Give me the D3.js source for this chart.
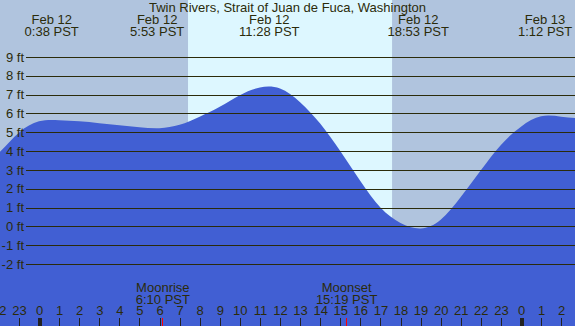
<!DOCTYPE html>
<html>
<head>
<meta charset="utf-8">
<script src="https://cdn.jsdelivr.net/npm/d3@7"></script>
<style>
  body { margin: 0; }
  svg { display: block; font-family: "Liberation Sans", Arial, sans-serif; }
</style>
</head>
<body>
<div id="chart-area"></div>
<script>
// hours from Feb 12 0:00 PST, heights (ft)
var hours = [-3, -2, -1, 0, 1, 2, 3, 4, 5, 6, 7, 8, 9, 10, 11, 12, 13, 14, 15, 16, 17, 18, 19, 20, 21, 22, 23, 24, 25, 26, 27, 28];
var heights = [2.9, 3.9, 4.98, 5.58, 5.64, 5.58, 5.48, 5.37, 5.27, 5.22, 5.4, 5.83, 6.35, 6.97, 7.38, 7.32, 6.6, 5.46, 4.0, 2.41, 1.0, 0.18, -0.11, 0.35, 1.56, 2.98, 4.33, 5.3, 5.85, 5.83, 5.7, 5.4];

var extremeHours = [0.633, 5.883, 11.467, 18.883, 25.2];
var extremeDates = ['Feb 12', 'Feb 12', 'Feb 12', 'Feb 12', 'Feb 13'];
var extremeTimes = ['0:38 PST', '5:53 PST', '11:28 PST', '18:53 PST', '1:12 PST'];

var moonHours = [6.167, 15.317];
var moonNames = ['Moonrise', 'Moonset'];
var moonTimes = ['6:10 PST', '15:19 PST'];

var sunrise = 7.42, sunset = 17.58;
var feetTicks = [-2, -1, 0, 1, 2, 3, 4, 5, 6, 7, 8, 9];
var hourTicks = d3.range(-2, 27);

var title = 'Twin Rivers, Strait of Juan de Fuca, Washington';

var width = 575;
var height = 326;
var ink = '#2b2b0a';
var fontSize = 13;

var svg = d3.select('#chart-area')
	.append('svg')
	.attr('width', width)
	.attr('height', height);

var x = d3.scaleLinear()
	.domain([0, 24])
	.range([39, 521]);

var y = d3.scaleLinear()
	.domain([-2, 9])
	.range([264, 57]);

// night / day sky
svg.append('rect')
	.attr('width', width)
	.attr('height', height)
	.attr('fill', '#b0c4de');

svg.append('rect')
	.attr('x', x(sunrise))
	.attr('y', 0)
	.attr('width', x(sunset) - x(sunrise))
	.attr('height', height)
	.attr('fill', '#ddf7ff');

// water
var area = d3.area()
	.x((d, i) => x(hours[i]))
	.y0(height)
	.y1(d => y(d))
	.curve(d3.curveNatural);

svg.append('path')
	.datum(heights)
	.attr('d', area)
	.attr('fill', '#415fd3');

// feet gridlines
var yAxis = d3.axisLeft(y)
	.tickValues(feetTicks)
	.tickSize(-(width - 26))
	.tickPadding(2)
	.tickFormat(d => d + ' ft');

svg.append('g')
	.attr('transform', 'translate(26, 0)')
	.call(yAxis)
	.call(g => g.select('.domain').remove())
	.call(g => g.selectAll('line').attr('stroke', ink).attr('shape-rendering', 'crispEdges'))
	.selectAll('text')
		.attr('fill', ink)
		.attr('font-size', fontSize)
		.attr('font-family', '"Liberation Sans", Arial, sans-serif');

// hour axis along the bottom
var xAxis = d3.axisTop(x)
	.tickValues(hourTicks)
	.tickSize(8)
	.tickPadding(3)
	.tickFormat(d => (d + 24) % 24);

svg.append('g')
	.attr('transform', 'translate(0, ' + height + ')')
	.call(xAxis)
	.call(g => g.select('.domain').remove())
	.call(g => g.selectAll('line')
		.attr('stroke', '#222')
		.attr('shape-rendering', 'crispEdges')
		.attr('stroke-width', d => d % 24 == 0 ? 4 : 1))
	.selectAll('text')
		.attr('fill', ink)
		.attr('font-size', fontSize)
		.attr('font-family', '"Liberation Sans", Arial, sans-serif');

// moon ticks
svg.selectAll('.moon-tick')
	.data(moonHours)
	.enter()
		.append('line')
		.attr('x1', d => x(d))
		.attr('x2', d => x(d))
		.attr('y1', height - 8)
		.attr('y2', height)
		.attr('stroke', 'red')
		.attr('shape-rendering', 'crispEdges');

var moonLabels = svg.selectAll('.moon-label')
	.data(moonHours)
	.enter()
		.append('text')
		.attr('text-anchor', 'middle')
		.attr('font-size', fontSize)
		.attr('fill', ink);

moonLabels.append('tspan')
	.attr('x', d => x(d))
	.attr('y', 292)
	.text((d, i) => moonNames[i]);

moonLabels.append('tspan')
	.attr('x', d => x(d))
	.attr('y', 304)
	.text((d, i) => moonTimes[i]);

// title and tide times
svg.append('text')
	.attr('x', width / 2)
	.attr('y', 12)
	.attr('text-anchor', 'middle')
	.attr('font-size', fontSize)
	.attr('fill', ink)
	.text(title);

var tideLabels = svg.selectAll('.tide-label')
	.data(extremeHours)
	.enter()
		.append('text')
		.attr('text-anchor', 'middle')
		.attr('font-size', fontSize)
		.attr('fill', ink);

tideLabels.append('tspan')
	.attr('x', d => x(d))
	.attr('y', 24)
	.text((d, i) => extremeDates[i]);

tideLabels.append('tspan')
	.attr('x', d => x(d))
	.attr('y', 36)
	.text((d, i) => extremeTimes[i]);
</script>
</body>
</html>
